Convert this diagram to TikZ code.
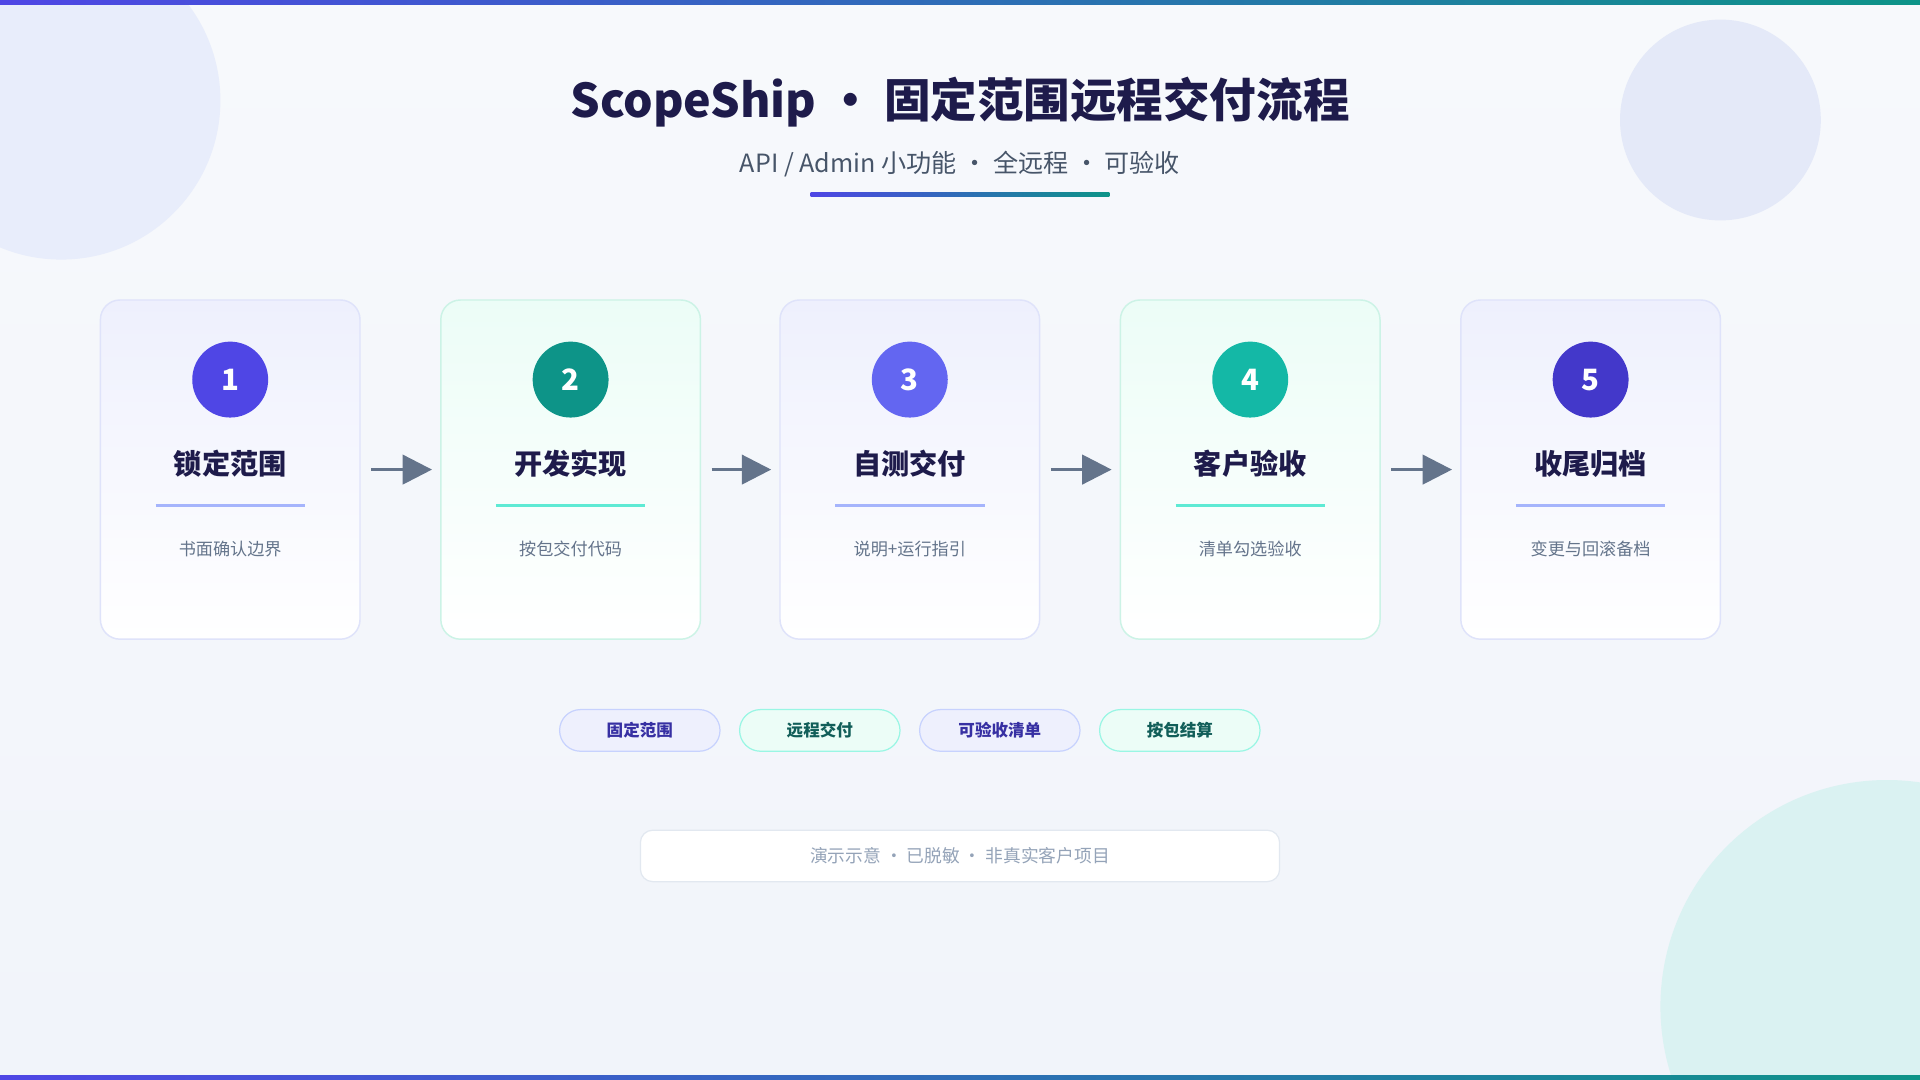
\documentclass[tikz,border=0pt]{standalone}
\usepackage{fontspec}
\setmainfont{Noto Sans CJK SC}
\usetikzlibrary{arrows.meta}
\definecolor{ind}{HTML}{4F46E5}
\definecolor{tea}{HTML}{0D9488}
\definecolor{ind2}{HTML}{6366F1}
\definecolor{tea2}{HTML}{14B8A6}
\definecolor{ind3}{HTML}{4338CA}
\definecolor{navy}{HTML}{1E1B4B}
\definecolor{slate}{HTML}{64748B}
\definecolor{bdI}{HTML}{DFE3FA}
\definecolor{bdT}{HTML}{CCF3E6}
\definecolor{tpI}{HTML}{EEF0FD}
\definecolor{tpT}{HTML}{ECFDF7}
\definecolor{lnI}{HTML}{A5B4FC}
\definecolor{lnT}{HTML}{5EEAD4}
\definecolor{pbI}{HTML}{C7D2FE}
\definecolor{pbT}{HTML}{99F6E4}
\definecolor{ptI}{HTML}{3730A3}
\definecolor{ptT}{HTML}{115E59}
\definecolor{sub}{HTML}{475569}
\definecolor{fb}{HTML}{E2E8F0}
\definecolor{ft}{HTML}{94A3B8}
\definecolor{c1}{HTML}{E8EDFB}
\definecolor{c2}{HTML}{E4E9F8}
\definecolor{c3}{HTML}{DAF2F2}
\definecolor{bg}{HTML}{F7F9FC}
\definecolor{bg2}{HTML}{F1F4FA}
\tikzset{
 card/.style={draw=#1,line width=1.2pt,rounded corners=16pt},
 badge/.style={circle,fill=#1,minimum size=62pt,inner sep=0pt,text=white,font=\fontsize{24}{28}\selectfont\bfseries},
 head/.style={text=navy,font=\fontsize{23}{28}\selectfont\bfseries},
 desc/.style={text=slate,font=\fontsize{14}{18}\selectfont},
 arr/.style={draw=slate,line width=2.5pt,-{Triangle[length=24pt,width=24pt]}},
 pillI/.style={draw=pbI,fill=tpI,text=ptI,rounded corners=17pt,minimum width=131pt,minimum height=34pt,line width=1pt,font=\fontsize{13.5}{16}\selectfont\bfseries},
 pillT/.style={pillI,draw=pbT,fill=tpT,text=ptT}
}
\begin{document}
\begin{tikzpicture}[x=1pt,y=-1pt]
\useasboundingbox (0,0) rectangle (1568,882);
\shade[top color=bg,bottom color=bg2] (0,0) rectangle (1568,882);
\fill[c1] (50,82) circle (130);
\fill[c2] (1405,98) circle (82);
\fill[c3] (1541,822) circle (185);
\shade[left color=ind,right color=tea] (0,0) rectangle (1568,4);
\shade[left color=ind,right color=tea] (0,878) rectangle (1568,882);
\node[text=navy,font=\fontsize{38}{46}\selectfont\bfseries] (title) at (784,83) {ScopeShip\ ·\ 固定范围远程交付流程};
\node[text=sub,font=\fontsize{20.5}{25}\selectfont] (subt) at (784,134) {API / Admin 小功能 · 全远程 · 可验收};
\shade[left color=ind,right color=tea] (662,157.5) rectangle (906,160.5);
\foreach \i/\x/\c/\bd/\tp/\ln/\h/\d in {
 1/82/ind/bdI/tpI/lnI/锁定范围/书面确认边界,
 2/360/tea/bdT/tpT/lnT/开发实现/按包交付代码,
 3/637/ind2/bdI/tpI/lnI/自测交付/说明+运行指引,
 4/915/tea2/bdT/tpT/lnT/客户验收/清单勾选验收,
 5/1193/ind3/bdI/tpI/lnI/收尾归档/变更与回滚备档}{
 \shade[rounded corners=16pt,top color=\tp,bottom color=white] (\x,245) rectangle ++(212,277);
 \draw[card=\bd] (\x,245) rectangle ++(212,277);
 \node (c\i) at (\x+106,383.5) [minimum width=212pt,minimum height=277pt] {};
 \node[badge=\c] (b\i) at (\x+106,310) {\i};
 \node[head] (h\i) at (\x+106,379) {\h};
 \draw[color=\ln,line width=2.5pt] (\x+45,413) -- (\x+167,413);
 \node[desc] (d\i) at (\x+106,448) {\d};
}
\foreach \a/\b in {1/2,2/3,3/4,4/5}{
 \draw[arr,shorten <=9pt,shorten >=7pt] (c\a.east) -- (c\b.west);
}
\node[pillI] (p1) at (522.5,596.5) {固定范围};
\node[pillT] (p2) at (669.5,596.5) {远程交付};
\node[pillI] (p3) at (816.5,596.5) {可验收清单};
\node[pillT] (p4) at (963.5,596.5) {按包结算};
\node[draw=fb,fill=white,rounded corners=10pt,minimum width=522pt,minimum height=42pt,line width=1pt,text=ft,font=\fontsize{14.5}{18}\selectfont] (foot) at (784,699) {演示示意 · 已脱敏 · 非真实客户项目};
\end{tikzpicture}
\end{document}
